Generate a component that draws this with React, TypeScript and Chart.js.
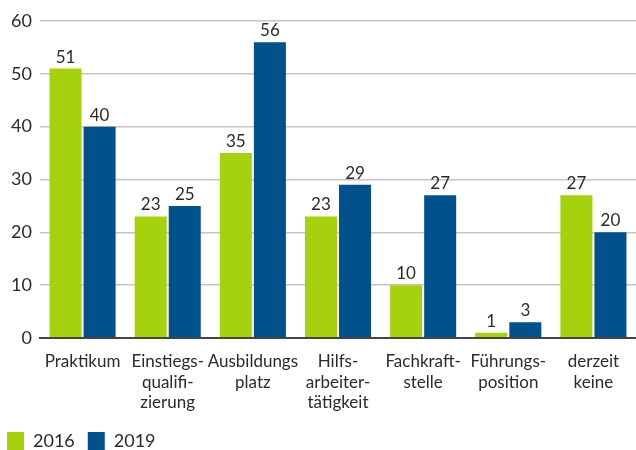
import React, { useEffect, useRef } from "react";
import { Chart, registerables } from "chart.js";

Chart.register(...registerables);

const categories: (string | string[])[] = [
  "Praktikum",
  ["Einstiegs-", "qualifi-", "zierung"],
  ["Ausbildungs", "platz"],
  ["Hilfs-", "arbeiter-", "tätigkeit"],
  ["Fachkraft-", "stelle"],
  ["Führungs-", "position"],
  ["derzeit", "keine"],
];
const values2016 = [51, 23, 35, 23, 10, 1, 27];
const values2019 = [40, 25, 56, 29, 27, 3, 20];
const seriesLabels = ["2016", "2019"];
const yTicks = { min: 0, max: 60, step: 10 };

const GREEN = "#a5d10d";
const BLUE = "#00518c";
const TEXT = "#2b2b2b";
const FONT = "Lato, 'DejaVu Sans', sans-serif";

const valueLabels = {
  id: "valueLabels",
  afterDatasetsDraw(chart: any) {
    const ctx = chart.ctx;
    ctx.save();
    ctx.font = `17px ${FONT}`;
    ctx.fillStyle = TEXT;
    ctx.textAlign = "center";
    ctx.textBaseline = "bottom";
    chart.data.datasets.forEach((ds: any, i: number) => {
      const meta = chart.getDatasetMeta(i);
      meta.data.forEach((el: any, j: number) => {
        ctx.fillText(String(ds.data[j]), el.x, el.y - 3);
      });
    });
    ctx.restore();
  },
};

const customLegend = {
  id: "customLegend",
  afterDraw(chart: any) {
    const ctx = chart.ctx;
    ctx.save();
    ctx.font = `18px ${FONT}`;
    ctx.textBaseline = "middle";
    ctx.textAlign = "left";
    let x = 7;
    const y = 432;
    chart.data.datasets.forEach((ds: any) => {
      ctx.fillStyle = ds.backgroundColor;
      ctx.fillRect(x, y, 17, 18);
      ctx.fillStyle = TEXT;
      const tx = x + 26;
      ctx.fillText(ds.label, tx, y + 9);
      x = tx + ctx.measureText(ds.label).width + 13;
    });
    ctx.restore();
  },
};

export default function App() {
  const ref = useRef<HTMLCanvasElement>(null);
  useEffect(() => {
    if (!ref.current) return;
    const chart = new Chart(ref.current, {
      type: "bar",
      data: {
        labels: categories,
        datasets: [
          { label: seriesLabels[0], data: values2016, backgroundColor: GREEN },
          { label: seriesLabels[1], data: values2019, backgroundColor: BLUE },
        ],
      },
      options: {
        animation: false,
        responsive: false,
        maintainAspectRatio: false,
        layout: { padding: { top: 21, right: 0, bottom: 30, left: 0 } },
        datasets: {
          bar: { categoryPercentage: 0.8, barPercentage: 0.94 },
        },
        plugins: {
          legend: { display: false },
          tooltip: { enabled: false },
        },
        scales: {
          x: {
            grid: { display: false },
            border: { display: true, color: "#444444", width: 2 },
            ticks: {
              color: TEXT,
              font: { family: FONT, size: 17, lineHeight: 1.22 },
              autoSkip: false,
              maxRotation: 0,
              minRotation: 0,
              padding: 5,
            },
            afterFit(scale: any) {
              scale.height = 82;
            },
          },
          y: {
            min: yTicks.min,
            max: yTicks.max,
            ticks: {
              stepSize: yTicks.step,
              color: TEXT,
              font: { family: FONT, size: 18 },
              padding: 8,
            },
            grid: {
              drawTicks: false,
              color: (c: any) => (c.tick && c.tick.value === 0 ? "#444444" : "#c6c6c6"),
              lineWidth: (c: any) => (c.tick && c.tick.value === 0 ? 2 : 1.5),
            },
            border: { display: false },
            afterFit(scale: any) {
              scale.width = 40;
            },
          },
        },
      },
      plugins: [valueLabels, customLegend],
    });
    return () => chart.destroy();
  }, []);
  return (
    <div style={{ position: "fixed", left: 0, top: 0, width: 636, height: 450, background: "#fff" }}>
      <canvas ref={ref} width={636} height={450} style={{ width: 636, height: 450, display: "block" }} />
    </div>
  );
}
